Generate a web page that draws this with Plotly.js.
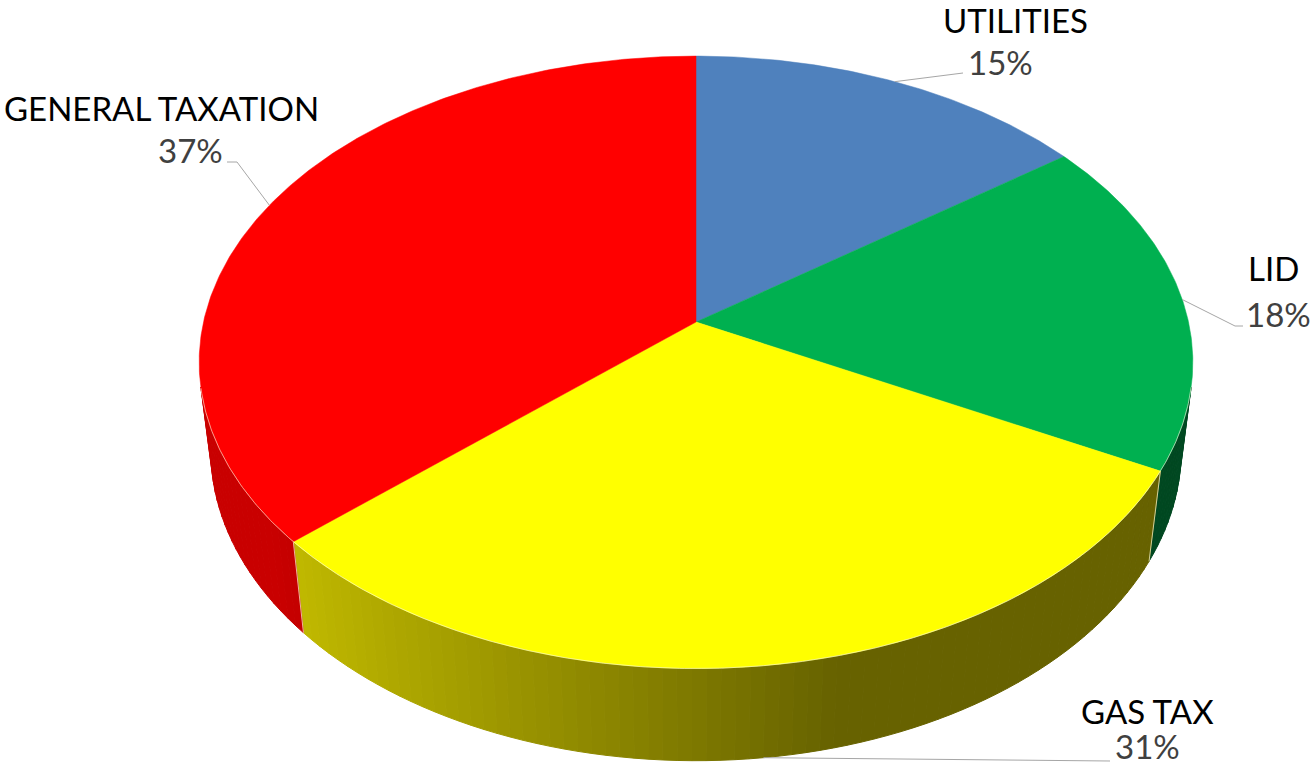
<!DOCTYPE html>
<html>
<head>
<meta charset="utf-8">
<script src="https://cdn.plot.ly/plotly-3.0.1.min.js"></script>
<style>
  html, body { margin: 0; padding: 0; background: #ffffff; }
  #chart { width: 1314px; height: 766px; }
</style>
</head>
<body>
<div id="chart"></div>
<script>
// ---- Data ----
const categories = ['UTILITIES', 'LID', 'GAS TAX', 'GENERAL TAXATION'];
const values = [14.9, 17.8, 30.7, 36.6];
const topColors = ['#4f81bd', '#00b050', '#ffff00', '#ff0000'];
const sideBase = [[79, 129, 189], [0, 176, 80], [250, 240, 0], [255, 0, 0]];

// ---- Label layout (positions in pixel-data units) ----
const labelLayout = {
  'UTILITIES':        { name: [1015, 20],  pct: [1000, 62],  leaderEnd: [[963, 73]],              anchorBottom: false },
  'LID':              { name: [1273, 268], pct: [1278, 314], leaderEnd: [[1235, 326], [1243, 326]], anchorBottom: false },
  'GAS TAX':          { name: [1147, 711], pct: [1147, 746], leaderEnd: [[1110, 761]],            anchorBottom: true },
  'GENERAL TAXATION': { name: [161, 108],  pct: [190, 150],  leaderEnd: [[237, 162], [227, 162]], anchorBottom: false }
};

// ---- 3D projection of the pie ----
const W = 1314, Hpx = 766;
const CX = 696, CY = 322;      // projected apex
const S = 0.611, C = 0.791;    // camera tilt
const D = 6.01, F = 2960;      // camera distance, focal
const DEPTH = 0.232;           // pie thickness (radius = 1)

function proj(X, Yh, Z) {
  const u = X, v = Yh * C + Z * S, w = D + Z * C - Yh * S;
  return [CX + F * u / w, CY - F * v / w];
}
function rim(thetaDeg, Yh) {
  const t = thetaDeg * Math.PI / 180;
  return proj(Math.sin(t), Yh, Math.cos(t));
}

const total = values.reduce((a, b) => a + b, 0);
const starts = [], ends = [];
let acc = 0;
values.forEach(v => { starts.push(acc / total * 360); acc += v; ends.push(acc / total * 360); });

const traces = [];

// visible side range
const visLimit = Math.acos(-1 / (D * C)) * 180 / Math.PI; // ~102 deg
const visA = visLimit, visB = 360 - visLimit;

function shade(base, thetaMid) {
  const X = Math.sin(thetaMid * Math.PI / 180);
  let f = 0.5 - 0.36 * X;
  f = Math.max(0.41, Math.min(0.79, f));
  return 'rgb(' + base.map(c => Math.round(c * f)).join(',') + ')';
}

// side strips
values.forEach((v, i) => {
  const a = Math.max(starts[i], visA), b = Math.min(ends[i], visB);
  if (b <= a) return;
  const n = Math.max(1, Math.ceil((b - a) / 1.5));
  const step = (b - a) / n;
  for (let k = 0; k < n; k++) {
    const t0 = a + k * step, t1 = t0 + step;
    const p = [rim(t0, 0), rim(t1, 0), rim(t1, -DEPTH), rim(t0, -DEPTH), rim(t0, 0)];
    const col = shade(sideBase[i], (t0 + t1) / 2);
    traces.push({
      type: 'scatter', mode: 'lines', fill: 'toself',
      x: p.map(q => q[0]), y: p.map(q => q[1]),
      fillcolor: col, line: { color: col, width: 1 },
      hoverinfo: 'skip', showlegend: false
    });
  }
});

// vertical seam lines on side at slice boundaries
ends.forEach((e, i) => {
  if (e > visA && e < visB) {
    const p0 = rim(e, 0), p1 = rim(e, -DEPTH);
    traces.push({
      type: 'scatter', mode: 'lines', x: [p0[0], p1[0]], y: [p0[1], p1[1]],
      line: { color: 'rgba(255,255,220,0.7)', width: 1 }, hoverinfo: 'skip', showlegend: false
    });
  }
});

// top face slices
values.forEach((v, i) => {
  const xs = [CX], ys = [CY];
  const n = Math.ceil((ends[i] - starts[i]) / 0.5);
  for (let k = 0; k <= n; k++) {
    const t = starts[i] + (ends[i] - starts[i]) * k / n;
    const p = rim(t, 0);
    xs.push(p[0]); ys.push(p[1]);
  }
  xs.push(CX); ys.push(CY);
  traces.push({
    type: 'scatter', mode: 'lines', fill: 'toself',
    x: xs, y: ys, fillcolor: topColors[i], line: { color: topColors[i], width: 0.5 },
    name: categories[i], hoverinfo: 'name', showlegend: false
  });
});

// light rim edge on the front
(function () {
  const xs = [], ys = [];
  for (let t = visA; t <= visB; t += 0.5) { const p = rim(t, 0); xs.push(p[0]); ys.push(p[1]); }
  traces.push({ type: 'scatter', mode: 'lines', x: xs, y: ys,
    line: { color: 'rgba(255,255,230,0.6)', width: 1 }, hoverinfo: 'skip', showlegend: false });
})();

// leader lines
values.forEach((v, i) => {
  const L = labelLayout[categories[i]];
  const mid = (starts[i] + ends[i]) / 2;
  const a = rim(mid, L.anchorBottom ? -DEPTH : 0);
  const pts = [a].concat(L.leaderEnd);
  traces.push({ type: 'scatter', mode: 'lines',
    x: pts.map(q => q[0]), y: pts.map(q => q[1]),
    line: { color: '#a6a6a6', width: 1 }, hoverinfo: 'skip', showlegend: false });
});

// labels
const annotations = [];
values.forEach((v, i) => {
  const L = labelLayout[categories[i]];
  annotations.push({ x: L.name[0], y: L.name[1], xref: 'x', yref: 'y', text: categories[i],
    showarrow: false, xanchor: 'center', yanchor: 'middle',
    font: { family: 'Lato, "Open Sans", sans-serif', size: 33, color: '#000000' } });
  annotations.push({ x: L.pct[0], y: L.pct[1], xref: 'x', yref: 'y',
    text: Math.round(v / total * 100) + '%',
    showarrow: false, xanchor: 'center', yanchor: 'middle',
    font: { family: 'Lato, "Open Sans", sans-serif', size: 33, color: '#404040' } });
});

const layout = {
  width: W, height: Hpx,
  margin: { l: 0, r: 0, t: 0, b: 0 },
  paper_bgcolor: '#ffffff', plot_bgcolor: '#ffffff',
  xaxis: { range: [0, W], visible: false, fixedrange: true },
  yaxis: { range: [Hpx, 0], visible: false, fixedrange: true },
  showlegend: false,
  annotations: annotations
};

Plotly.newPlot('chart', traces, layout, { displayModeBar: false, staticPlot: true });
</script>
</body>
</html>
